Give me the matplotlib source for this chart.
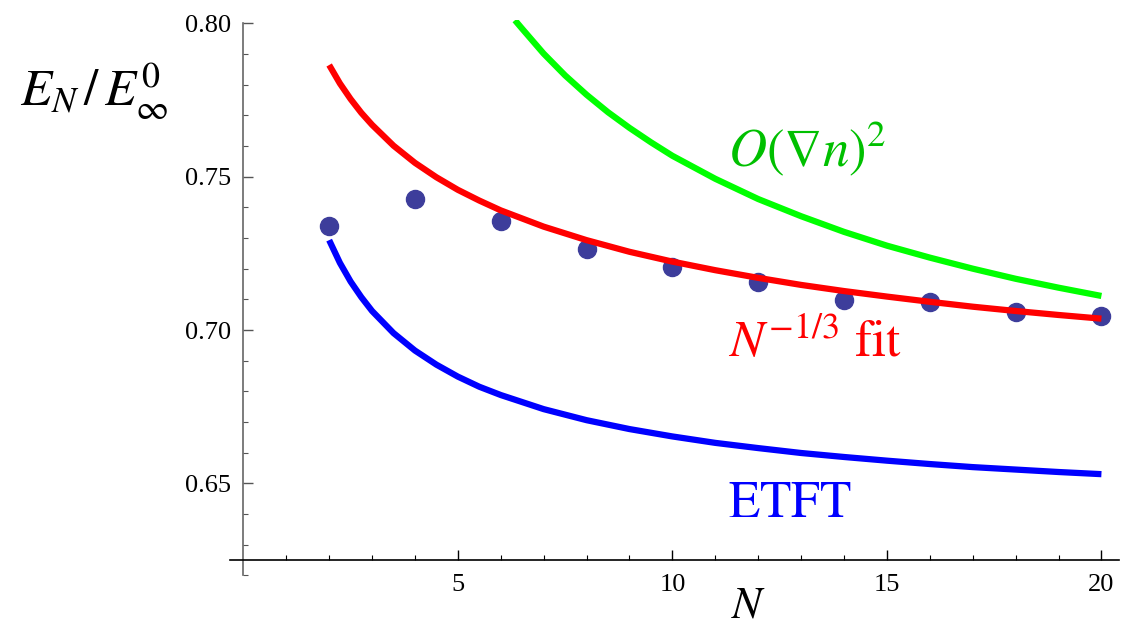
import matplotlib.pyplot as plt
from matplotlib.ticker import FixedLocator

plt.rcParams["font.family"] = ["Liberation Serif", "DejaVu Serif"]
plt.rcParams["mathtext.fontset"] = "stix"

# Data points E_N / E_inf^0
n_pts = [2, 4, 6, 8, 10, 12, 14, 16, 18, 20]
e_pts = [0.7339, 0.7427, 0.7354, 0.7265, 0.7206, 0.7158, 0.7098, 0.7092, 0.7058, 0.7046]

# N^{-1/3} fit curve (red)
n_fit = [2, 2.25, 2.5, 2.75, 3, 3.5, 4, 4.5, 5, 5.5, 6, 7, 8, 9, 10,
         11, 12, 13, 14, 15, 16, 17, 18, 19, 20]
e_fit = [0.7864, 0.7804, 0.7753, 0.7708, 0.7669, 0.7601, 0.7545, 0.7498, 0.7457,
         0.7422, 0.7390, 0.7337, 0.7293, 0.7255, 0.7223, 0.7195, 0.7170, 0.7147,
         0.7127, 0.7109, 0.7092, 0.7076, 0.7062, 0.7049, 0.7037]

# ETFT curve (blue)
n_etft = [2, 2.25, 2.5, 2.75, 3, 3.5, 4, 4.5, 5, 5.5, 6, 7, 8, 9, 10,
          11, 12, 13, 14, 15, 16, 17, 18, 19, 20]
e_etft = [0.7293, 0.7219, 0.7158, 0.7107, 0.7062, 0.6990, 0.6933, 0.6887, 0.6848,
          0.6815, 0.6788, 0.6742, 0.6706, 0.6677, 0.6653, 0.6632, 0.6615, 0.6599,
          0.6586, 0.6574, 0.6563, 0.6553, 0.6545, 0.6537, 0.6530]

# O(grad n)^2 curve (green), clipped at the top of the frame
n_grad = [6.33, 6.5, 7, 7.5, 8, 8.5, 9, 9.5, 10, 11, 12, 13, 14, 15, 16,
          17, 18, 19, 20]
e_grad = [0.8010, 0.7982, 0.7901, 0.7830, 0.7767, 0.7710, 0.7659, 0.7612, 0.7568,
          0.7493, 0.7427, 0.7371, 0.7320, 0.7275, 0.7236, 0.7200, 0.7167, 0.7138,
          0.7111]

x_major = [5, 10, 15, 20]
x_minor = [1, 2, 3, 4, 6, 7, 8, 9, 11, 12, 13, 14, 16, 17, 18, 19]
y_major = [0.65, 0.70, 0.75, 0.80]
y_minor = [0.62, 0.63, 0.64, 0.66, 0.67, 0.68, 0.69, 0.71, 0.72, 0.73, 0.74,
           0.76, 0.77, 0.78, 0.79]

fig = plt.figure(figsize=(11.31, 6.28), dpi=100)
ax = fig.add_axes([0.2034, 0.0838, 0.786, 0.884])

ax.plot(n_pts, e_pts, "o", color="#3d3d9b", markersize=13, zorder=2)
ax.plot(n_etft, e_etft, color="#0000ff", lw=4.5, solid_capstyle="butt", zorder=3)
ax.plot(n_fit, e_fit, color="#ff0000", lw=4.5, solid_capstyle="butt", zorder=3)
ax.plot(n_grad, e_grad, color="#00ff00", lw=4.5, solid_capstyle="butt", zorder=3)

ax.set_xlim(-0.31, 20.41)
ax.set_ylim(0.62, 0.801)

# Mathematica-style axes crossing at (0, 0.625)
for s in ["top", "right"]:
    ax.spines[s].set_visible(False)
ax.spines["left"].set_position(("data", 0))
ax.spines["left"].set_bounds(0.62, 0.80)
ax.spines["left"].set_color("#666666")
ax.spines["left"].set_linewidth(1.2)
ax.spines["bottom"].set_position(("data", 0.625))
ax.spines["bottom"].set_linewidth(1.2)

ax.xaxis.set_major_locator(FixedLocator(x_major))
ax.xaxis.set_minor_locator(FixedLocator(x_minor))
ax.yaxis.set_major_locator(FixedLocator(y_major))
ax.yaxis.set_minor_locator(FixedLocator(y_minor))
ax.set_xticklabels([str(v) for v in x_major])
ax.set_yticklabels(["%.2f" % v for v in y_major])

ax.tick_params(axis="x", which="major", direction="in", length=7, width=1, pad=10,
               labelsize=19)
ax.tick_params(axis="x", which="minor", direction="in", length=3.5, width=0.8)
ax.tick_params(axis="y", which="major", direction="in", length=7, width=1, pad=9,
               labelsize=19, color="#555555")
ax.tick_params(axis="y", which="minor", direction="in", length=3.5, width=0.8,
               color="#555555")

fig.text(20 / 1131, 1 - 106 / 628, r"$E_N\,/\,E^0_\infty$", fontsize=37,
         ha="left", va="baseline")
fig.text(749 / 1131, 1 - 617 / 628, r"$N$", fontsize=32, ha="center", va="baseline")

ax.text(11.29, 0.7535, r"$O(\nabla n)^2$", color="#00c000", fontsize=38,
        ha="left", va="baseline")
ax.text(11.29, 0.6913, r"$N^{-1/3}\ \mathrm{fit}$", color="#ff0000", fontsize=37,
        ha="left", va="baseline")
ax.text(11.29, 0.6391, r"$\mathrm{ETFT}$", color="#0000ff", fontsize=37,
        ha="left", va="baseline")

fig.savefig("out.png", dpi=100)
